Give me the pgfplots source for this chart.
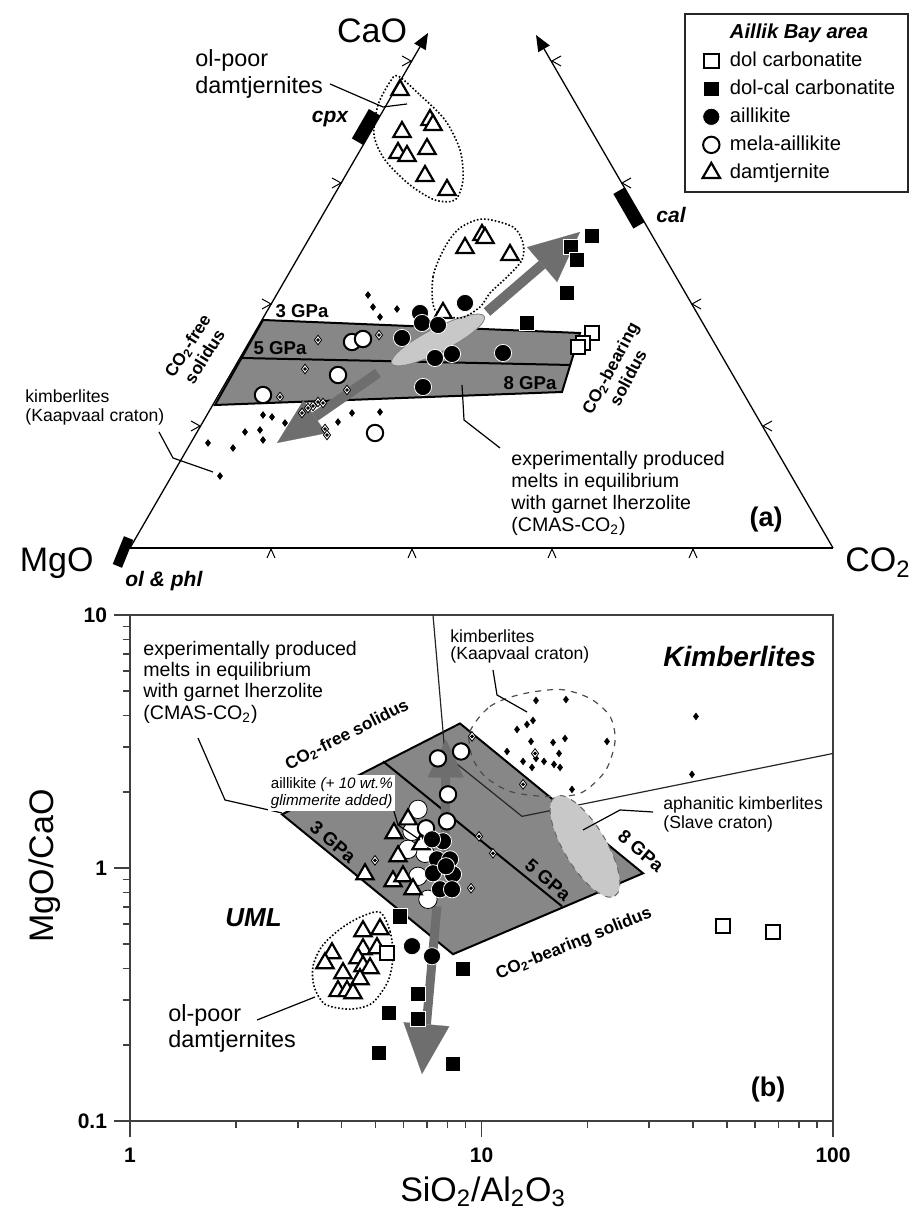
\documentclass[border=0pt]{standalone}
\usepackage{pgfplots}
\pgfplotsset{compat=1.18}
\usepackage{pgfplotstable}
\usepackage{fontspec}
\setmainfont{Liberation Sans}
\usetikzlibrary{arrows.meta}
\definecolor{band}{HTML}{878787}
\definecolor{lite}{HTML}{C8C8C8}
\definecolor{arr}{HTML}{6E6E6E}
\newcommand{\fA}{\fontsize{9.8}{11}\selectfont}
\newcommand{\fK}{\fontsize{8.8}{10}\selectfont}
\newcommand{\fO}{\fontsize{11.7}{13}\selectfont}
\newcommand{\fB}{\fontsize{17}{20}\selectfont}
\newcommand{\fG}{\bfseries\fontsize{9.3}{11}\selectfont}
\newcommand{\fS}{\bfseries\fontsize{8.6}{10}\selectfont}
\newcommand{\fM}{\bfseries\itshape\fontsize{10.5}{12}\selectfont}

\pgfplotsset{
  aill/.style={only marks, mark=*, mark size=4.3pt, mark options={fill=black, draw=white, line width=0.4pt}},
  mela/.style={only marks, mark=*, mark size=4.1pt, mark options={fill=white, draw=black, line width=1pt}},
  blob/.style={only marks, mark=*, mark size=4.6pt, mark options={fill=white, draw=none}},
  damt/.style={only marks, mark=triangle*, mark size=5pt, mark options={fill=white, draw=black, line width=1.1pt}},
  dolc/.style={only marks, mark=square*, mark size=3.8pt, mark options={fill=black, draw=white, line width=0.4pt}},
  dol/.style={only marks, mark=square*, mark size=3.6pt, mark options={fill=white, draw=black, line width=1pt}},
  dia/.style={only marks, mark=diamond*, mark size=2.4pt, mark options={fill=white, draw=black, line width=0.4pt}},
  dot/.style={only marks, mark=*, mark size=0.7pt, mark options={fill=black, draw=black}},
  kimb/.style={only marks, mark=diamond*, mark size=1.6pt, mark options={fill=black, draw=black}},
}

% ternary diagram (a): positions in picture units (x right, y down)
\pgfplotstableread{
x y
318 340
379 335
305 369
347 390
280 397
318 402
313 406
308 408
302 413
323 403
325 429
327 435
}\diaTop
% plot (b): SiO2/Al2O3 vs MgO/CaO
\pgfplotstableread{
x y
9.397 3.311
13.13 2.141
9.838 1.334
10.78 1.143
9.336 0.832
4.977 1.072
14.20 2.836
}\diaBot

\begin{document}
\begin{tikzpicture}
\useasboundingbox (0,0) rectangle (456pt,609.5pt);

%================ (a) ternary =================
\begin{axis}[at={(65pt,335.5pt)}, anchor=south west, scale only axis,
  width=351.5pt, height=269pt, xmin=130, xmax=833, ymin=10, ymax=548,
  y dir=reverse, hide axis, clip=false,
  legend style={at={(1.108,0.9944)}, anchor=north east, draw=black!85,
    line width=0.9pt, fill=white, font=\fontsize{10.1}{12}\selectfont,
    row sep=1.2pt, column sep=3pt, inner xsep=4.5pt, inner ysep=3pt},
  legend cell align=left]
\addlegendimage{empty legend}\addlegendentry{\textbf{\textit{Aillik Bay area}}}
\addlegendimage{dol}\addlegendentry{dol carbonatite}
\addlegendimage{dolc}\addlegendentry{dol-cal carbonatite}
\addlegendimage{aill}\addlegendentry{aillikite}
\addlegendimage{mela}\addlegendentry{mela-aillikite}
\addlegendimage{damt}\addlegendentry{damtjernite}

\addplot[fill=band, draw=black, line width=1pt, forget plot] coordinates {(263,320) (580,333) (562,392) (215,405)} -- cycle;
\addplot[black, line width=1pt, forget plot] coordinates {(241,358) (571,365)};
\draw[fill=lite, draw=black!50, line width=0.4pt] (axis cs:438,340) ellipse [x radius=26pt, y radius=6pt, rotate=27];
\draw[arr, line width=5pt, -{Triangle[length=25pt,width=23pt,line width=0.1pt]}] (axis cs:487,312) -- (axis cs:580,232);
\draw[arr, line width=5pt, -{Triangle[length=23pt,width=20pt,line width=0.1pt]}] (axis cs:378,373) -- (axis cs:277,443);
\draw[densely dotted, line width=0.8pt] plot[smooth cycle] coordinates {(axis cs:398,76) (axis cs:420,95) (axis cs:445,120) (axis cs:460,150) (axis cs:463,180) (axis cs:455,200) (axis cs:435,200) (axis cs:410,185) (axis cs:385,160) (axis cs:374,135) (axis cs:378,105) (axis cs:390,82)};
\draw[densely dotted, line width=0.8pt] plot[smooth cycle] coordinates {(axis cs:435,310) (axis cs:433,277) (axis cs:445,247) (axis cs:460,228) (axis cs:483,219) (axis cs:513,227) (axis cs:523,243) (axis cs:522,260) (axis cs:507,277) (axis cs:490,293) (axis cs:480,307) (axis cs:460,318)};

\addplot[kimb, forget plot] coordinates {(368,295) (373,307) (380,317) (397,309) (263,415) (272,417) (285,423) (245,432) (260,430) (263,440) (208,443) (233,448) (338,422) (352,413) (380,412) (220,476)};
\addplot[dia, forget plot] table {\diaTop};
\addplot[dot, forget plot] table {\diaTop};
\addplot[damt, forget plot] coordinates {(400,90) (430,120) (433,125) (402,132) (398,153) (407,156) (427,149) (425,176) (447,190) (465,248) (482,235) (485,238) (510,255) (443,313)};
\addplot[mela, forget plot] coordinates {(352,342) (363,339) (338,375) (263,395) (375,433)};
\addplot[aill, forget plot] coordinates {(420,313) (422,323) (438,325) (465,303) (402,338) (435,358) (452,354) (503,353) (423,387)};
\addplot[dolc, forget plot] coordinates {(592,236) (571,247) (577,260) (567,293) (527,323)};
\addplot[dol, forget plot] coordinates {(592,333) (583,343) (578,347)};
\end{axis}

%================ (b) log-log =================
\begin{axis}[at={(65pt,49pt)}, anchor=south west, scale only axis,
  width=351.5pt, height=253pt, xmode=log, ymode=log,
  xmin=1, xmax=100, ymin=0.1, ymax=10,
  xtick={1,10,100}, xticklabels={1,10,100},
  ytick={0.1,1,10}, yticklabels={0.1,1,10},
  minor xtick={2,3,4,5,6,7,8,9,20,30,40,50,60,70,80,90},
  minor ytick={0.2,0.3,0.4,0.5,0.6,0.7,0.8,0.9,2,3,4,5,6,7,8,9},
  tick align=outside, tick pos=left, major tick length=8pt, minor tick length=3.5pt,
  tick style={black!75, line width=0.8pt},
  axis line style={black!75, line width=0.9pt},
  ticklabel style={font=\bfseries\fontsize{10.5}{12}\selectfont},
  xticklabel style={yshift=-2pt}]
\addplot[fill=band, draw=black, line width=1pt] coordinates {(2.707,1.629) (8.686,3.727) (28.81,0.953) (8.296,0.4564)} -- cycle;
\addplot[black, line width=1pt] coordinates {(5.246,2.638) (16.94,0.706)};
\addplot[black!85, line width=0.6pt] coordinates {(7.278,10) (7.874,2.811) (13.04,1.600) (100,2.836)};
\draw[dashed, black!70, line width=0.6pt] plot[smooth cycle] coordinates {(axis cs:9.275,3.465) (axis cs:10.57,4.349) (axis cs:12.87,4.851) (axis cs:16.73,5.077) (axis cs:20.36,4.677) (axis cs:23.21,3.971) (axis cs:23.98,3.164) (axis cs:22.46,2.409) (axis cs:19.06,1.972) (axis cs:15.16,1.919) (axis cs:12.05,2.008) (axis cs:10.23,2.301) (axis cs:9.397,2.761)};
\draw[densely dotted, line width=0.8pt] plot[smooth cycle] coordinates {(axis cs:5.143,0.6685) (axis cs:5.492,0.5625) (axis cs:5.601,0.448) (axis cs:5.420,0.357) (axis cs:4.881,0.2922) (axis cs:4.226,0.2768) (axis cs:3.587,0.2896) (axis cs:3.338,0.3411) (axis cs:3.316,0.4093) (axis cs:3.518,0.4908) (axis cs:3.957,0.5727) (axis cs:4.511,0.6389)};
\draw[fill=lite, draw=black!60, dashed, line width=0.5pt] (axis cs:19.7,1.218) ellipse [x radius=29pt, y radius=10.5pt, rotate=-59];
\draw[arr, line width=4.5pt, -{Triangle[length=19pt,width=18pt,line width=0.1pt]}] (axis cs:7.874,1.063) -- (axis cs:7.925,3.222);
\draw[arr, line width=4.5pt, -{Triangle[length=25pt,width=23pt,line width=0.1pt]}] (axis cs:7.470,0.706) -- (axis cs:6.771,0.1533);

\addplot[kimb] coordinates {(14.29,4.593) (17.39,4.634) (13.47,3.693) (14.01,3.830) (12.62,3.528) (13.83,3.164) (15.98,3.135) (17.28,3.251) (22.75,3.164) (11.82,2.888) (16.62,2.836) (13.13,2.638) (14.29,2.711) (15.06,2.638) (16.08,2.567) (16.73,2.498) (13.92,2.498) (18.09,2.045) (40.75,3.971) (39.70,2.344)};
\addplot[dia] table {\diaBot};
\addplot[dot] table {\diaBot};
\addplot[blob] coordinates {(6.596,1.705) (6.343,1.396) (6.907,1.143) (6.596,0.927) (7.041,0.752) (6.179,1.185)};
\addplot[damt] coordinates {(6.179,1.557) (5.638,1.371) (6.727,1.241) (5.787,1.112) (4.662,0.944) (5.601,0.886) (5.979,0.927) (6.385,0.824)};
\addplot[damt] coordinates {(4.601,0.5625) (5.143,0.5727) (3.755,0.4604) (4.601,0.4775) (5.043,0.4819) (4.452,0.4399) (3.587,0.4204) (4.036,0.3840) (4.601,0.4091) (4.818,0.4018) (4.511,0.3635) (3.906,0.3261) (4.144,0.3261) (4.310,0.3201)};
\addplot[mela] coordinates {(7.519,2.711) (8.745,2.888) (8.029,1.954) (7.976,1.529) (6.952,1.435)};
\addplot[aill] coordinates {(7.771,1.275) (7.470,1.082) (8.135,1.082) (7.278,0.953) (8.296,0.944) (7.619,0.824) (8.243,0.824) (7.925,1.016) (7.231,1.298) (6.343,0.491) (7.231,0.448)};
\addplot[dolc] coordinates {(5.864,0.6436) (8.859,0.3982) (6.596,0.3172) (5.456,0.267) (6.596,0.2527) (5.110,0.1856) (8.296,0.1679)};
\addplot[dol] coordinates {(48.66,0.5886) (67.51,0.5573) (5.385,0.4604)};
\end{axis}

%================ frame, labels, leaders (picture units) ============
\begin{scope}[x=0.5pt,y=-0.5pt,shift={(0pt,609.5pt)}]
\draw[line width=0.65pt] (130,548) -- (833,548);
\draw[line width=0.65pt,-{Triangle[length=8pt,width=6.5pt]}] (130,548) -- (428,33);
\draw[line width=0.65pt,-{Triangle[length=8pt,width=6.5pt]}] (833,548) -- (536,35);
\draw[line width=0.5pt] (267,558)--(271,549)--(275,558);
\draw[line width=0.5pt] (408,558)--(412,549)--(416,558);
\draw[line width=0.5pt] (548,558)--(552,549)--(556,558);
\draw[line width=0.5pt] (689,558)--(693,549)--(697,558);
\draw[line width=0.5pt] (191,421)--(200,426)--(191,431);
\draw[line width=0.5pt] (262,299)--(271,304)--(262,309);
\draw[line width=0.5pt] (332,178)--(341,183)--(332,188);
\draw[line width=0.5pt] (402,56)--(411,61)--(402,66);
\draw[line width=0.5pt] (772,421)--(763,426)--(772,431);
\draw[line width=0.5pt] (701,299)--(692,304)--(701,309);
\draw[line width=0.5pt] (631,178)--(622,183)--(631,188);
\draw[line width=0.5pt] (561,56)--(552,61)--(561,66);
\node[fill=black, minimum width=17pt, minimum height=6.5pt, inner sep=0pt, rotate=60] at (366,127) {};
\node[fill=black, minimum width=20pt, minimum height=6.5pt, inner sep=0pt, rotate=120] at (629,208) {};
\node[fill=black, minimum width=15pt, minimum height=5pt, inner sep=0pt, rotate=68] at (123,552) {};

\node[font=\fB] at (372,31) {CaO};
\node[font=\fB, anchor=base east, inner sep=0pt] at (94,572) {MgO};
\node[font=\fB, anchor=base west, inner sep=0pt] at (845,572) {CO\textsubscript{2}};
\node[font=\fM, anchor=base west, inner sep=0pt] at (125,587) {ol \& phl};
\node[font=\fM] at (330,119) {cpx};
\node[font=\fM] at (671,215) {cal};
\node[font=\bfseries\fontsize{13.5}{15}\selectfont] at (766,520) {(a)};
\node[font=\fO, anchor=base west, inner sep=0pt] at (195,67) {ol-poor};
\node[font=\fO, anchor=base west, inner sep=0pt] at (195,94) {damtjernites};
\draw[line width=0.6pt] (330,84) -- (383,107) -- (407,104);
\node[font=\fK, anchor=base west, inner sep=0pt] at (25,403) {kimberlites};
\node[font=\fK, anchor=base west, inner sep=0pt] at (25,422) {(Kaapvaal craton)};
\draw[line width=0.6pt] (159,432) -- (173,458) -- (213,472);
\node[font=\fA, anchor=base west, inner sep=0pt] at (511,466) {experimentally produced};
\node[font=\fA, anchor=base west, inner sep=0pt] at (511,488) {melts in equilibrium};
\node[font=\fA, anchor=base west, inner sep=0pt] at (511,510) {with garnet lherzolite};
\node[font=\fA, anchor=base west, inner sep=0pt] at (511,532) {(CMAS-CO\textsubscript{2})};
\draw[line width=0.6pt] (462,385) -- (464,420) -- (500,448);
\node[font=\fG] at (302,311) {3 GPa};
\node[font=\fG] at (280,348) {5 GPa};
\node[font=\fG] at (530,383) {8 GPa};
\node[font=\fS, rotate=58, align=center, inner sep=0pt] at (196,351) {CO\textsubscript{2}-free\\solidus};
\node[font=\fS, rotate=62, align=center, inner sep=0pt] at (619,373) {CO\textsubscript{2}-bearing\\solidus};

% (b)
\node[font=\fA, anchor=base west, inner sep=0pt] at (143,656) {experimentally produced};
\node[font=\fA, anchor=base west, inner sep=0pt] at (143,677) {melts in equilibrium};
\node[font=\fA, anchor=base west, inner sep=0pt] at (143,698) {with garnet lherzolite};
\node[font=\fA, anchor=base west, inner sep=0pt] at (143,720) {(CMAS-CO\textsubscript{2})};
\draw[line width=0.6pt] (198,738) -- (225,800) -- (282,813);
\node[font=\fS, rotate=27] at (347,735) {CO\textsubscript{2}-free solidus};
\draw[line width=0.6pt] (393,808) -- (398,825) -- (420,840);
\node[fill=white, inner sep=1.2pt, anchor=north west, align=left, font=\fontsize{7.6}{8.5}\selectfont] at (268,775) {aillikite \textit{(+ 10 wt.\%}\\\textit{glimmerite added)}};
\node[font=\fK, anchor=base west, inner sep=0pt] at (450,643) {kimberlites};
\node[font=\fK, anchor=base west, inner sep=0pt] at (450,660) {(Kaapvaal craton)};
\draw[line width=0.6pt] (493,670) -- (497,695) -- (527,712);
\node[font=\bfseries\itshape\fontsize{14}{16}\selectfont, anchor=base west, inner sep=0pt] at (663,667) {Kimberlites};
\node[font=\fK, anchor=base west, inner sep=0pt] at (663,810) {aphanitic kimberlites};
\node[font=\fK, anchor=base west, inner sep=0pt] at (663,829) {(Slave craton)};
\draw[line width=0.6pt] (583,830) -- (620,810) -- (653,812);
\node[font=\fG, rotate=-40] at (333,842) {3 GPa};
\node[font=\fG, rotate=-40] at (548,880) {5 GPa};
\node[font=\fG, rotate=-40] at (641,851) {8 GPa};
\node[font=\fS, rotate=22] at (574,944) {CO\textsubscript{2}-bearing solidus};
\node[font=\bfseries\itshape\fontsize{13}{15}\selectfont, anchor=base west, inner sep=0pt] at (225,927) {UML};
\node[font=\fO, anchor=base west, inner sep=0pt] at (168,1022) {ol-poor};
\node[font=\fO, anchor=base west, inner sep=0pt] at (168,1048) {damtjernites};
\draw[line width=0.6pt] (257,1020) -- (315,997);
\node[font=\bfseries\fontsize{13.5}{15}\selectfont] at (768,1090) {(b)};
\node[font=\fB, rotate=90] at (45,866) {MgO/CaO};
\node[font=\fB] at (483,1192) {SiO\textsubscript{2}/Al\textsubscript{2}O\textsubscript{3}};
\end{scope}
\end{tikzpicture}
\end{document}
